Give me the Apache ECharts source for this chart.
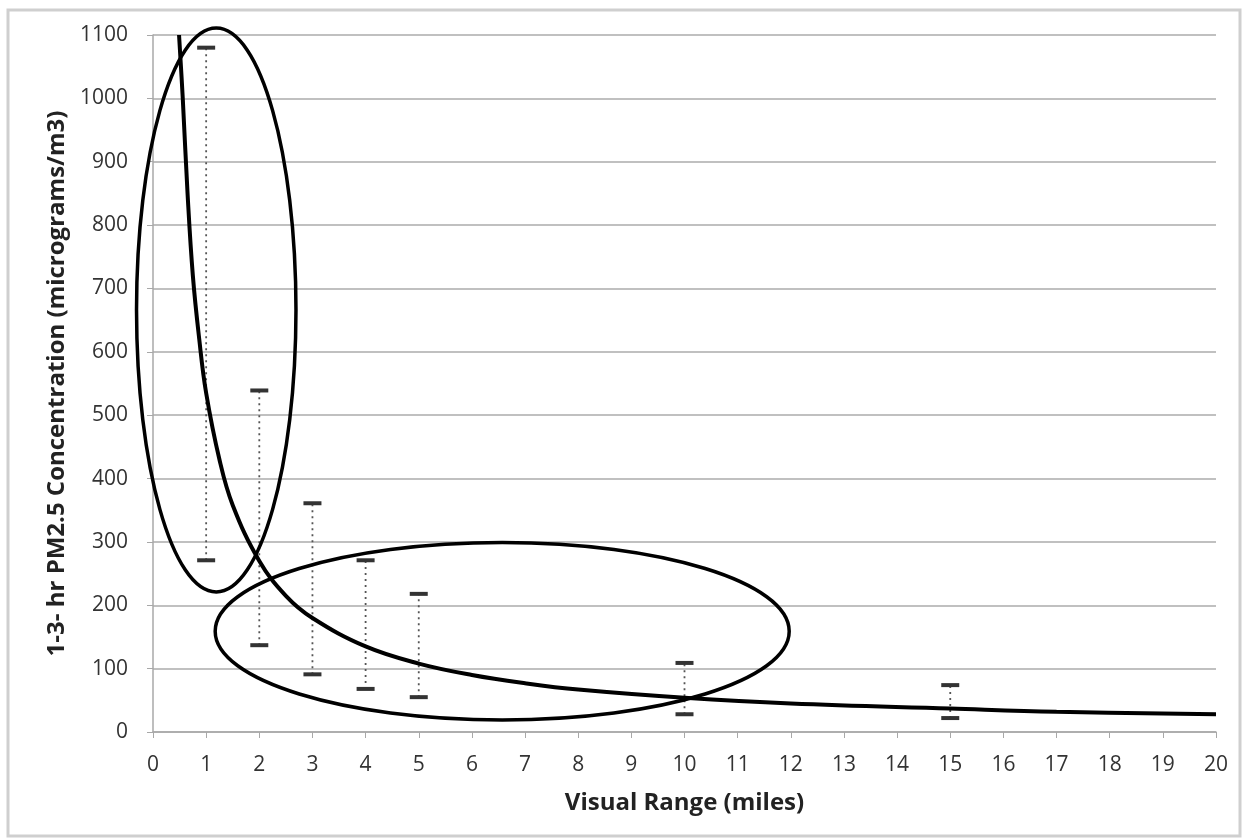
<!DOCTYPE html>
<html>
<head>
<meta charset="utf-8">
<script src="https://cdn.jsdelivr.net/npm/echarts@6/dist/echarts.min.js"></script>
<style>html,body{margin:0;padding:0;background:#fff}#c{width:1248px;height:840px}</style>
</head>
<body>
<div id="c"></div>
<script>
// Error bars: visual range (miles), low and high PM2.5 (µg/m3)
const barX = [1, 2, 3, 4, 5, 10, 15];
const barLow = [271, 137, 91, 68, 55, 28, 22];
const barHigh = [1080, 539, 361, 271, 218, 109, 74];
// Fitted curve
const curveX = [0.49, 0.56, 0.65, 0.75, 0.87, 1, 1.25, 1.5, 2, 2.5, 3, 4, 5, 6, 7, 8, 10, 12, 15, 17, 20];
const curveY = [1100, 1000, 850, 720, 620, 535, 430, 358, 270, 215, 180, 135, 108, 90, 77, 67, 54, 45, 37, 32, 28];
// Annotation ellipses in data space: centre x, centre y, radius x, radius y
const ellipseCx = [1.19, 6.57];
const ellipseCy = [666, 159];
const ellipseRx = [1.5, 5.4];
const ellipseRy = [445, 140];

const FONT = '"Open Sans", Lato, sans-serif';
const chart = echarts.init(document.getElementById('c'), null, {renderer: 'canvas'});

const barData = barX.map((x, i) => [x, barLow[i], barHigh[i]]);
const curveData = curveX.map((x, i) => [x, curveY[i]]);

chart.setOption({
  animation: false,
  backgroundColor: '#fff',
  grid: {left: 153, right: 32, top: 35, bottom: 108, containLabel: false},
  xAxis: {
    type: 'value', min: 0, max: 20, interval: 1,
    name: 'Visual Range (miles)', nameLocation: 'middle', nameGap: 59,
    nameTextStyle: {fontFamily: FONT, fontSize: 24, fontWeight: 'bold', color: '#222'},
    axisLine: {show: true, lineStyle: {color: '#a8a8a8', width: 1.5}},
    axisTick: {show: true, length: 6, lineStyle: {color: '#a8a8a8'}},
    axisLabel: {fontFamily: FONT, fontSize: 21, color: '#333', margin: 23, formatter: v => String(v)},
    splitLine: {show: false}
  },
  yAxis: {
    type: 'value', min: 0, max: 1100, interval: 100,
    name: '1-3- hr PM2.5 Concentration (micrograms/m3)', nameLocation: 'middle', nameGap: 82, nameRotate: 90,
    nameTextStyle: {fontFamily: FONT, fontSize: 24, fontWeight: 'bold', color: '#222'},
    axisLine: {show: true, lineStyle: {color: '#a8a8a8', width: 1.5}},
    axisTick: {show: true, length: 6, inside: false, lineStyle: {color: '#a8a8a8'}},
    axisLabel: {fontFamily: FONT, fontSize: 21, color: '#333', margin: 25, formatter: v => String(v)},
    splitLine: {show: true, lineStyle: {color: '#c0c0c0', width: 1.8}}
  },
  series: [
    {
      type: 'custom',
      name: 'range',
      data: barData,
      z: 3,
      renderItem: function (params, api) {
        const x = api.value(0);
        const lo = api.coord([x, api.value(1)]);
        const hi = api.coord([x, api.value(2)]);
        const hw = 9;
        return {
          type: 'group',
          children: [
            {type: 'line', shape: {x1: lo[0], y1: lo[1], x2: hi[0], y2: hi[1]},
             style: {stroke: '#555', lineWidth: 1.8, lineDash: [2, 4]}},
            {type: 'line', shape: {x1: hi[0] - hw, y1: hi[1], x2: hi[0] + hw, y2: hi[1]},
             style: {stroke: '#333', lineWidth: 4}},
            {type: 'line', shape: {x1: lo[0] - hw, y1: lo[1], x2: lo[0] + hw, y2: lo[1]},
             style: {stroke: '#333', lineWidth: 4}}
          ]
        };
      }
    },
    {
      type: 'line',
      name: 'fit',
      data: curveData,
      smooth: 0.4,
      showSymbol: false,
      symbol: 'none',
      lineStyle: {color: '#000', width: 4},
      z: 4
    }
  ]
});

function drawAnnotations() {
  const els = [];
  for (let i = 0; i < ellipseCx.length; i++) {
    const c = chart.convertToPixel({gridIndex: 0}, [ellipseCx[i], ellipseCy[i]]);
    const e = chart.convertToPixel({gridIndex: 0}, [ellipseCx[i] + ellipseRx[i], ellipseCy[i] + ellipseRy[i]]);
    els.push({
      type: 'ellipse', z: 10,
      shape: {cx: c[0], cy: c[1], rx: Math.abs(e[0] - c[0]), ry: Math.abs(c[1] - e[1])},
      style: {fill: null, stroke: '#000', lineWidth: 3.5}
    });
  }
  els.push({
    type: 'rect', z: 0, silent: true,
    shape: {x: 8, y: 10, width: 1232, height: 826},
    style: {fill: null, stroke: '#cfcfcf', lineWidth: 3}
  });
  chart.setOption({graphic: {elements: els}});
}
drawAnnotations();
</script>
</body>
</html>
